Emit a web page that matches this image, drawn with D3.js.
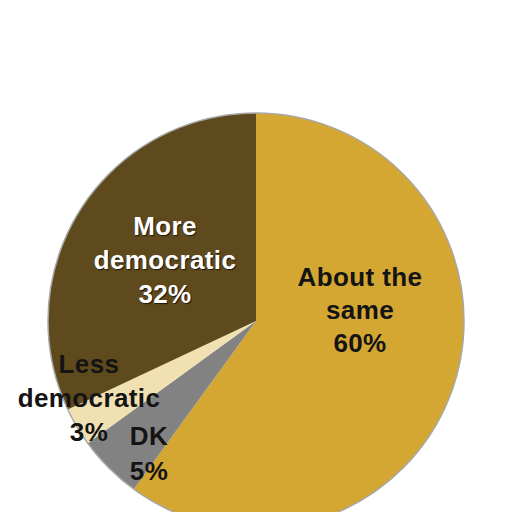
<!DOCTYPE html>
<html>
<head>
<meta charset="utf-8">
<script src="https://cdn.jsdelivr.net/npm/d3@7.9.0/dist/d3.min.js"></script>
<style>
  body { margin: 0; background: #fff; }
  text { font-family: "Liberation Sans", Arial, sans-serif; font-weight: bold; }
</style>
</head>
<body>
<svg id="chart" width="512" height="512"></svg>
<script>
const categories = ['About the same', 'DK', 'Less democratic', 'More democratic'];
const values = [60, 5, 3, 32];
const colors = ['#d4a632', '#828282', '#f0e0b2', '#5e4a1d'];

const labelLines = [
  ['About the', 'same', '60%'],
  ['DK', '5%'],
  ['Less', 'democratic', '3%'],
  ['More', 'democratic', '32%']
];
const labelColors = ['#141414', '#141414', '#141414', '#ffffff'];

const cx = 256, cy = 321, r = 208;
const svg = d3.select('#chart');
const g = svg.append('g').attr('transform', `translate(${cx},${cy})`);

let data = categories.map((c, i) => ({ label: c, value: values[i], idx: i }));
let sliceGenerator = d3.pie().sort(null).value(d => d.value);
let arcGenerator = d3.arc().innerRadius(0).outerRadius(r);
let arcData = sliceGenerator(data);

g.selectAll('path.slice')
  .data(arcData)
  .join('path')
  .attr('class', 'slice')
  .attr('d', arcGenerator)
  .attr('fill', d => colors[d.data.idx]);

g.append('circle')
  .attr('r', r)
  .attr('fill', 'none')
  .attr('stroke', '#a8a8a8')
  .attr('stroke-width', 1.5);

// label centre (x) and first baseline (y), relative to pie centre
const labelX = [104, -107, -167, -91];
const labelY = [-35, 124, 52, -86];
const labelLineH = [33, 35, 34, 34];

arcData.forEach((d, i) => {
  const lines = labelLines[i];
  const t = svg.append('text')
    .attr('text-anchor', 'middle')
    .attr('font-size', 26)
    .attr('letter-spacing', 0.4)
    .attr('fill', labelColors[i])
    .attr('x', cx + labelX[i])
    .attr('y', cy + labelY[i]);
  if (i === 3) t.style('text-shadow', '1px 1px 1px #1e1608');
  lines.forEach((ln, k) => {
    t.append('tspan')
      .attr('x', cx + labelX[i])
      .attr('dy', k === 0 ? 0 : labelLineH[i])
      .text(ln);
  });
});
</script>
</body>
</html>
